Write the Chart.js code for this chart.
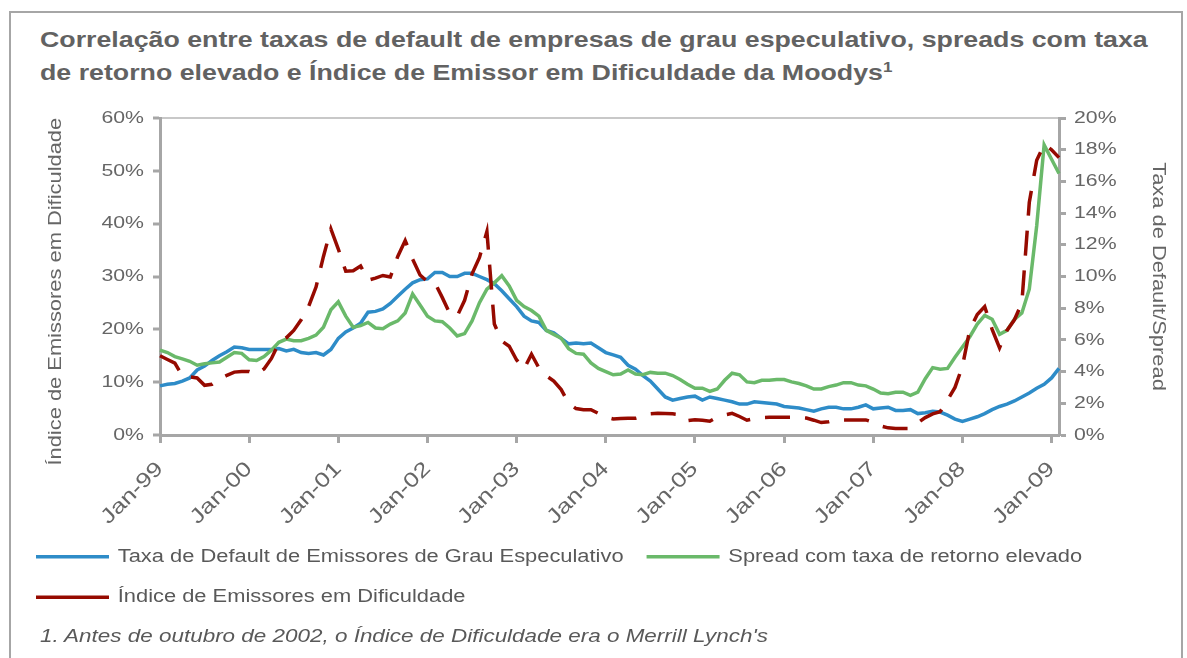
<!DOCTYPE html>
<html>
<head>
<meta charset="utf-8">
<script src="https://cdn.jsdelivr.net/npm/chart.js@4.4.1/dist/chart.umd.min.js"></script>
<style>
  html, body { margin: 0; padding: 0; background: #fff; }
  body { width: 1187px; height: 658px; position: relative; overflow: hidden; font-family: "Liberation Sans", Arial, sans-serif; }
  #moldura { position: absolute; left: 9px; top: 11px; width: 1174px; height: 700px; border: 2px solid #a6a6a6; box-sizing: border-box; }
  #titulo { position: absolute; left: 40px; top: 23px; font-size: 22px; font-weight: bold; color: #626262; line-height: 33px; white-space: nowrap; transform: scaleX(1.216); transform-origin: 0 0; }
  #titulo sup { font-size: 14px; line-height: 0; }
  #nota { position: absolute; left: 40px; top: 626px; font-size: 18px; font-style: italic; color: #595959; white-space: nowrap; transform: scaleX(1.247); transform-origin: 0 0; }
  #grafico { position: absolute; left: 0; top: 0; }
</style>
</head>
<body>
<div id="moldura"></div>
<div id="titulo">Correlação entre taxas de default de empresas de grau especulativo, spreads com taxa<br>de retorno elevado e Índice de Emissor em Dificuldade da Moodys<sup>1</sup></div>
<canvas id="grafico" width="1187" height="658"></canvas>
<div id="nota">1. Antes de outubro de 2002, o Índice de Dificuldade era o Merrill Lynch's</div>
<script>
// Dados (em %), mensais de Jan-99 a Feb-09
const meses = ['Jan', 'Feb', 'Mar', 'Apr', 'May', 'Jun', 'Jul', 'Aug', 'Sep', 'Oct', 'Nov', 'Dec'];
const anos = ['99', '00', '01', '02', '03', '04', '05', '06', '07', '08', '09'];
const totalMeses = 122;

// Taxa de Default de Emissores de Grau Especulativo (eixo direito)
const taxaDefault = [
  3.1, 3.2, 3.25, 3.4, 3.6, 4.1, 4.35, 4.7, 5.0, 5.25, 5.55, 5.5,
  5.4, 5.4, 5.4, 5.4, 5.45, 5.3, 5.4, 5.2, 5.15, 5.2, 5.05, 5.4,
  6.1, 6.5, 6.75, 7.05, 7.75, 7.8, 7.95, 8.3, 8.75, 9.2, 9.6, 9.8,
  9.85, 10.25, 10.25, 10.0, 10.0, 10.2, 10.2, 10.0, 9.8, 9.55, 9.1, 8.6,
  8.1, 7.5, 7.2, 7.1, 6.6, 6.45, 6.1, 5.75, 5.8, 5.75, 5.8, 5.5,
  5.2, 5.05, 4.9, 4.4, 4.15, 3.75, 3.4, 2.9, 2.4, 2.2, 2.3, 2.4,
  2.45, 2.2, 2.4, 2.3, 2.2, 2.1, 1.95, 1.95, 2.1, 2.05, 2.0, 1.95,
  1.8, 1.75, 1.7, 1.6, 1.5, 1.65, 1.75, 1.75, 1.65, 1.65, 1.75, 1.9,
  1.65, 1.7, 1.75, 1.55, 1.55, 1.6, 1.35, 1.4, 1.5, 1.45, 1.25, 1.0,
  0.85, 1.0, 1.15, 1.35, 1.6, 1.8, 1.95, 2.15, 2.4, 2.65, 2.95, 3.2,
  3.6, 4.2
];

// Spread com taxa de retorno elevado (eixo direito)
const spreadRetorno = [
  5.35, 5.2, 4.95, 4.8, 4.65, 4.4, 4.5, 4.55, 4.6, 4.9, 5.2, 5.15,
  4.75, 4.7, 4.95, 5.35, 5.85, 6.05, 5.95, 5.95, 6.1, 6.3, 6.8, 7.9,
  8.4, 7.5, 6.8, 6.9, 7.1, 6.75, 6.7, 7.0, 7.2, 7.7, 8.9, 8.2,
  7.5, 7.2, 7.15, 6.75, 6.25, 6.4, 7.2, 8.35, 9.2, 9.6, 10.05, 9.4,
  8.5, 8.1, 7.85, 7.5, 6.6, 6.35, 6.1, 5.45, 5.15, 5.1, 4.55, 4.2,
  4.0, 3.8, 3.85, 4.1, 3.85, 3.8, 3.95, 3.9, 3.9, 3.75, 3.5, 3.2,
  2.95, 2.95, 2.75, 2.9, 3.45, 3.9, 3.8, 3.35, 3.3, 3.45, 3.45, 3.5,
  3.5, 3.35, 3.25, 3.1, 2.9, 2.9, 3.05, 3.15, 3.3, 3.3, 3.15, 3.1,
  2.9, 2.65, 2.6, 2.7, 2.7, 2.5, 2.7, 3.55, 4.25, 4.15, 4.2, 4.9,
  5.55, 6.2, 7.0, 7.55, 7.3, 6.35, 6.6, 7.3, 7.7, 9.2, 13.2, 18.3,
  17.4, 16.5
];

// Índice de Emissores em Dificuldade (eixo esquerdo)
const indiceDificuldade = [
  15.0, 14.3, 13.6, 11.2, 11.0, 10.8, 9.4, 9.6, 10.6, 11.3, 11.9, 12.0,
  12.0, 11.5, 12.5, 14.5, 17.4, 18.4, 19.8, 21.8, 24.3, 28.0, 33.8, 39.0,
  35.2, 31.0, 31.1, 32.0, 29.3, 29.7, 30.2, 29.9, 33.8, 36.8, 33.3, 30.3,
  29.0, 28.8, 26.0, 23.0, 22.5, 25.5, 30.5, 33.6, 38.5, 21.0, 17.8, 16.8,
  14.2, 12.5, 15.3, 12.7, 11.2, 10.2, 8.6, 6.0, 5.0, 4.8, 4.8, 4.1,
  3.4, 3.05, 3.1, 3.15, 3.15, 3.5, 4.0, 4.1, 4.05, 4.0, 3.85, 2.7,
  2.9, 2.8, 2.6, 3.4, 3.8, 4.1, 3.5, 2.8, 3.1, 3.3, 3.35, 3.35,
  3.35, 3.35, 3.3, 3.2, 2.8, 2.35, 2.5, 2.85, 2.85, 2.85, 2.85, 2.85,
  2.4, 1.7, 1.35, 1.25, 1.25, 1.25, 2.3, 3.3, 4.0, 4.4, 6.6, 9.0,
  13.0, 20.0, 22.8, 24.3, 20.0, 16.5, 19.8, 21.8, 25.0, 44.0, 52.0, 55.0,
  54.0, 52.5
];

const categorias = [];
anos.forEach(a => meses.forEach(m => categorias.push(m + '-' + a)));
categorias.length = totalMeses;

const cinza = '#a6a6a6';
const corTexto = '#666666';

const ctx = document.getElementById('grafico').getContext('2d');

// o texto do original (Excel) sai mais largo: estica o texto do canvas na direcao da escrita
const esticar = 1.25;
const fillOrig = ctx.fillText.bind(ctx);
const measureOrig = ctx.measureText.bind(ctx);
ctx.fillText = function(texto, x, y, maxWidth) {
  ctx.save();
  ctx.translate(x, y);
  ctx.scale(esticar, 1);
  if (maxWidth === undefined) fillOrig(texto, 0, 0);
  else fillOrig(texto, 0, 0, maxWidth / esticar);
  ctx.restore();
};
ctx.measureText = function(texto) {
  const m = measureOrig(texto);
  return {
    width: m.width * esticar,
    actualBoundingBoxAscent: m.actualBoundingBoxAscent,
    actualBoundingBoxDescent: m.actualBoundingBoxDescent,
    actualBoundingBoxLeft: m.actualBoundingBoxLeft * esticar,
    actualBoundingBoxRight: m.actualBoundingBoxRight * esticar
  };
};

new Chart(ctx, {
  type: 'line',
  data: {
    labels: categorias,
    datasets: [
      {
        label: 'Taxa de Default de Emissores de Grau Especulativo',
        data: taxaDefault,
        yAxisID: 'y1',
        borderColor: '#2e8cc8',
        backgroundColor: '#2e8cc8',
        borderWidth: 3.5,
        pointRadius: 0,
        order: 2
      },
      {
        label: 'Spread com taxa de retorno elevado',
        data: spreadRetorno,
        yAxisID: 'y1',
        borderColor: '#6ab96a',
        backgroundColor: '#6ab96a',
        borderWidth: 3.5,
        pointRadius: 0,
        order: 1
      },
      {
        label: 'Índice de Emissores em Dificuldade',
        data: indiceDificuldade,
        yAxisID: 'y',
        borderColor: '#960a00',
        backgroundColor: '#960a00',
        borderWidth: 3.5,
        borderDash: [25, 15],
        pointRadius: 0,
        order: 0
      }
    ]
  },
  options: {
    responsive: false,
    animation: false,
    layout: { padding: { top: 118, left: 13, right: 0, bottom: 42 } },
    plugins: {
      tooltip: { enabled: false },
      legend: {
        position: 'bottom',
        align: 'start',
        labels: {
          usePointStyle: true,
          pointStyle: 'line',
          pointStyleWidth: 73,
          padding: 23,
          color: '#595959',
          font: { size: 17.5, family: 'Liberation Sans' },
          sort: (a, b) => a.datasetIndex - b.datasetIndex
        }
      }
    },
    scales: {
      x: {
        ticks: {
          autoSkip: false,
          minRotation: 45,
          maxRotation: 45,
          color: corTexto,
          padding: 14,
          font: { size: 20.5, family: 'Liberation Sans' },
          callback: function(v, i) { return i % 12 === 0 ? this.getLabelForValue(v) : ''; }
        },
        grid: {
          drawOnChartArea: false,
          tickLength: 8,
          tickWidth: 3,
          tickColor: c => (c.index % 12 === 0 ? cinza : 'transparent')
        },
        border: { color: cinza, width: 3 },
        afterFit: s => { s.height = 90; }
      },
      y: {
        position: 'left',
        min: 0,
        max: 60,
        ticks: {
          stepSize: 10,
          color: corTexto,
          padding: 9,
          font: { size: 17, family: 'Liberation Sans' },
          callback: v => v + '%'
        },
        grid: {
          color: c => (c.tick.value === 60 ? '#c8c8c8' : 'transparent'),
          lineWidth: 2,
          tickLength: 7,
          tickWidth: 3,
          tickColor: cinza
        },
        border: { color: cinza, width: 3 },
        title: {
          display: true,
          // espacos no fim: no original o titulo fica um pouco abaixo do centro
          text: 'Índice de Emissores em Dificuldade     ',
          color: corTexto,
          font: { size: 17.5, family: 'Liberation Sans' },
          padding: { top: 33, bottom: 0 }
        },
        afterFit: s => { s.width = 147; }
      },
      y1: {
        position: 'right',
        min: 0,
        max: 20,
        ticks: {
          stepSize: 2,
          color: corTexto,
          padding: 8,
          font: { size: 17, family: 'Liberation Sans' },
          callback: v => v + '%'
        },
        grid: {
          drawOnChartArea: false,
          tickLength: 7,
          tickWidth: 3,
          tickColor: cinza
        },
        border: { color: cinza, width: 3 },
        title: {
          display: true,
          text: 'Taxa de Default/Spread',
          color: corTexto,
          font: { size: 17.5, family: 'Liberation Sans' },
          padding: { top: 19, bottom: 0 }
        },
        afterFit: s => { s.width = 128; }
      }
    }
  }
});
</script>
</body>
</html>
